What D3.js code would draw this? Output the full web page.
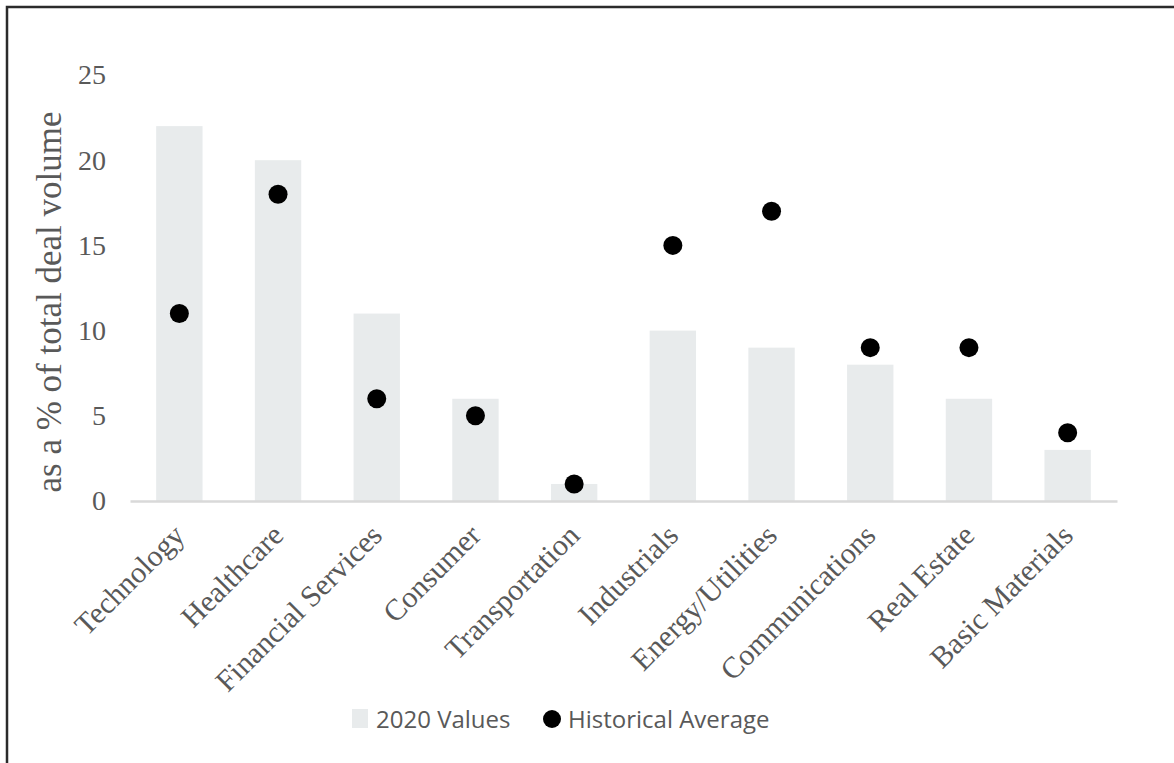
<!DOCTYPE html>
<html>
<head>
<meta charset="utf-8">
<script src="https://cdn.jsdelivr.net/npm/d3@7"></script>
<style>
  body { margin: 0; background: #fff; }
  svg { display: block; }
</style>
</head>
<body>
<div id="chart"></div>
<script>
const categories = ['Technology', 'Healthcare', 'Financial Services', 'Consumer', 'Transportation',
  'Industrials', 'Energy/Utilities', 'Communications', 'Real Estate', 'Basic Materials'];
const values2020 = [22, 20, 11, 6, 1, 10, 9, 8, 6, 3];
const historicalAvg = [11, 18, 6, 5, 1, 15, 17, 9, 9, 4];
const yTicks = [0, 5, 10, 15, 20, 25];

const W = 1174, H = 763;
const margin = { top: 75, right: 57, bottom: 262, left: 130 };

const svg = d3.select('#chart').append('svg')
  .attr('width', W)
  .attr('height', H);

// outer frame (only top/left edges are inside the picture)
svg.append('rect')
  .attr('x', 7).attr('y', 7)
  .attr('width', W + 20).attr('height', H + 20)
  .attr('fill', 'none')
  .attr('stroke', '#2b2b2b')
  .attr('stroke-width', 2.5);

const x = d3.scaleBand()
  .domain(categories)
  .range([margin.left, W - margin.right])
  .paddingInner(0.53)
  .paddingOuter(0.265);

const y = d3.scaleLinear()
  .domain([0, 25])
  .range([H - margin.bottom, margin.top]);

const barColor = '#e8ebec';
const textColor = '#595959';
const serif = '"Liberation Serif", "Times New Roman", serif';

// bars
svg.selectAll('.bar')
  .data(categories)
  .enter().append('rect')
  .attr('class', 'bar')
  .attr('x', d => x(d))
  .attr('width', x.bandwidth())
  .attr('y', (d, i) => y(values2020[i]))
  .attr('height', (d, i) => y(0) - y(values2020[i]))
  .attr('fill', barColor);

// x axis
const xAxis = svg.append('g')
  .attr('transform', `translate(0,${y(0)})`)
  .call(d3.axisBottom(x).tickSize(0).tickSizeOuter(0));
xAxis.select('.domain')
  .attr('stroke', '#d9d9d9')
  .attr('stroke-width', 2.5);
xAxis.selectAll('text')
  .attr('font-family', serif)
  .attr('font-size', '30px')
  .attr('fill', textColor)
  .attr('text-anchor', 'end')
  .attr('dy', 0)
  .attr('transform', 'translate(5,34) rotate(-45)');

// y axis
const yAxis = svg.append('g')
  .attr('transform', `translate(${margin.left},0)`)
  .call(d3.axisLeft(y).tickValues(yTicks).tickSize(0));
yAxis.select('.domain').remove();
yAxis.selectAll('text')
  .attr('font-family', serif)
  .attr('font-size', '28px')
  .attr('fill', textColor)
  .attr('x', -24);

// y title
svg.append('text')
  .attr('transform', `translate(61,${(y(0) + y(25)) / 2 + 14}) rotate(-90)`)
  .attr('text-anchor', 'middle')
  .attr('font-family', serif)
  .attr('font-size', '35px')
  .attr('fill', textColor)
  .text('as a % of total deal volume');

// historical average dots
svg.selectAll('.dot')
  .data(categories)
  .enter().append('circle')
  .attr('class', 'dot')
  .attr('cx', d => x(d) + x.bandwidth() / 2)
  .attr('cy', (d, i) => y(historicalAvg[i]))
  .attr('r', 9.5)
  .attr('fill', '#000');

// legend
const legend = svg.append('g')
  .attr('font-family', '"Open Sans", "Noto Sans", sans-serif')
  .attr('font-size', '24px')
  .attr('fill', textColor);

legend.append('rect')
  .attr('x', 352).attr('y', 709)
  .attr('width', 16).attr('height', 19)
  .attr('fill', barColor);
legend.append('text')
  .attr('x', 376).attr('y', 728)
  .text('2020 Values');

legend.append('circle')
  .attr('cx', 552).attr('cy', 719)
  .attr('r', 9)
  .attr('fill', '#000');
legend.append('text')
  .attr('x', 568).attr('y', 728)
  .text('Historical Average');
</script>
</body>
</html>
